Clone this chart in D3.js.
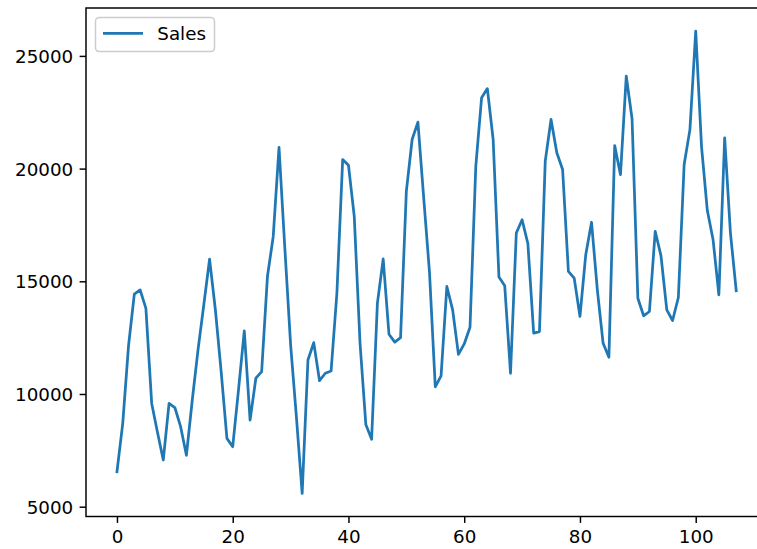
<!DOCTYPE html>
<html>
<head>
<meta charset="utf-8">
<script src="https://cdn.jsdelivr.net/npm/d3@7"></script>
<style>
  html, body { margin: 0; padding: 0; background: #ffffff; }
  svg { display: block; }
  text { font-family: "DejaVu Sans", sans-serif; fill: #000; }
</style>
</head>
<body>
<div id="chart"></div>
<script>
// ---- data ----
const seriesName = "Sales";
const sales = [
  6550, 8700, 12150, 14430, 14620, 13800, 9580, 8300, 7070, 9580,
  9400, 8550, 7280, 9700, 11950, 13950, 15980, 13750, 11000, 8030,
  7660, 10180, 12800, 8840, 10700, 10990, 15210, 16990, 20940, 16500,
  12200, 9000, 5590, 11510, 12280, 10590, 10920, 11020, 14470, 20400,
  20150, 17880, 12250, 8650, 7990, 14030, 15990, 12650, 12300, 12500,
  18990, 21290, 22060, 18700, 15400, 10320, 10800, 14770, 13730, 11760,
  12220, 12960, 20100, 23140, 23550, 21290, 15190, 14800, 10920, 17140,
  17730, 16670, 12700, 12770, 20330, 22180, 20700, 19960, 15440, 15140,
  13440, 16180, 17620, 14620, 12250, 11630, 21020, 19730, 24100, 22210,
  14250, 13470, 13660, 17220, 16130, 13730, 13260, 14280, 20180, 21730,
  26100, 20990, 18150, 16840, 14400, 21360, 17140, 14580
];
const index = sales.map((_, i) => i);
const xTicks = [0, 20, 40, 60, 80, 100];
const yTicks = [5000, 10000, 15000, 20000, 25000];

// ---- layout ----
const W = 757, H = 549;
const padL = 86, padR = 767.2, padT = 8, padB = 516.5;
const fs = 18.3;
const tickLen = 6.4, tickPad = 6.4, lw = 1.47;

const svg = d3.select("#chart").append("svg")
  .attr("width", W).attr("height", H);

const n = index.length - 1;
const x = d3.scaleLinear()
  .domain([index[0] - 0.05 * n, index[n] + 0.05 * n])
  .range([padL, padR]);
const [ymin, ymax] = d3.extent(sales);
const yp = (ymax - ymin) * 0.05;
const y = d3.scaleLinear()
  .domain([ymin - yp, ymax + yp])
  .range([padB, padT]);

// line
const line = d3.line().x((d, i) => x(index[i])).y(d => y(d));
svg.append("path")
  .datum(sales)
  .attr("d", line)
  .attr("fill", "none")
  .attr("stroke", "#1f77b4")
  .attr("stroke-width", 2.75)
  .attr("stroke-linejoin", "round")
  .attr("stroke-linecap", "square");

// axes
const xAxis = d3.axisBottom(x).tickValues(xTicks).tickSize(tickLen).tickPadding(tickPad).tickFormat(d3.format("d"));
const yAxis = d3.axisLeft(y).tickValues(yTicks).tickSize(tickLen).tickPadding(tickPad).tickFormat(d3.format("d"));

const gx = svg.append("g").attr("transform", `translate(0,${padB})`).call(xAxis);
const gy = svg.append("g").attr("transform", `translate(${padL},0)`).call(yAxis);
[gx, gy].forEach(g => {
  g.select(".domain").remove();
  g.selectAll(".tick line").attr("stroke", "#000").attr("stroke-width", lw);
  g.selectAll(".tick text")
    .attr("fill", "#000")
    .style("font-family", "'DejaVu Sans', sans-serif")
    .style("font-size", fs + "px");
});
gx.selectAll(".tick text").attr("dy", null).attr("y", tickLen + tickPad)
  .attr("dominant-baseline", "hanging");
gy.selectAll(".tick text").attr("dy", null).attr("y", 0).attr("dy", "0.36em");

// frame
svg.append("rect")
  .attr("x", padL).attr("y", padT)
  .attr("width", padR - padL).attr("height", padB - padT)
  .attr("fill", "none").attr("stroke", "#000").attr("stroke-width", lw);

// legend
const lg = svg.append("g");
lg.append("rect")
  .attr("x", 95.5).attr("y", 17.5).attr("width", 119).attr("height", 34)
  .attr("rx", 3.7).attr("ry", 3.7)
  .attr("fill", "#ffffff").attr("fill-opacity", 0.8)
  .attr("stroke", "#cccccc").attr("stroke-width", lw);
lg.append("line")
  .attr("x1", 103).attr("x2", 143).attr("y1", 33.3).attr("y2", 33.3)
  .attr("stroke", "#1f77b4").attr("stroke-width", 2.75);
lg.append("text")
  .attr("x", 157.3).attr("y", 33.3).attr("dy", "0.36em")
  .style("font-size", fs + "px")
  .text(seriesName);
</script>
</body>
</html>
